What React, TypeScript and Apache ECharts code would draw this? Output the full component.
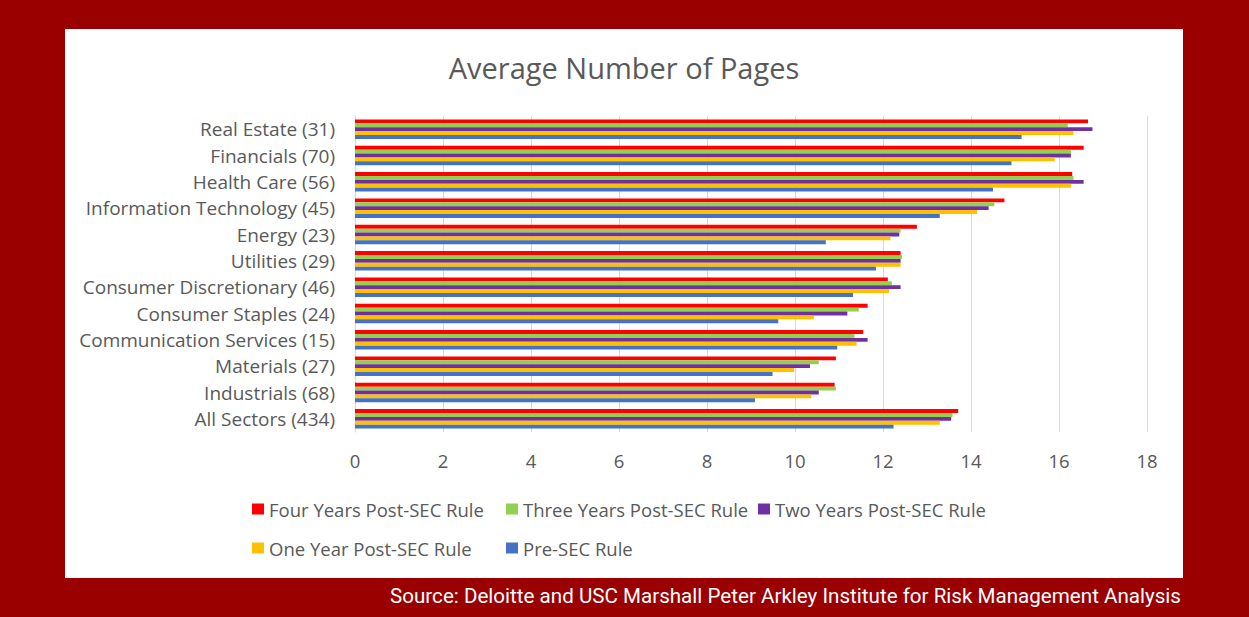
import React, { useEffect, useRef } from "react";
import * as echarts from "echarts";

const categories = [
  "Real Estate (31)",
  "Financials (70)",
  "Health Care (56)",
  "Information Technology (45)",
  "Energy (23)",
  "Utilities (29)",
  "Consumer Discretionary (46)",
  "Consumer Staples (24)",
  "Communication Services (15)",
  "Materials (27)",
  "Industrials (68)",
  "All Sectors (434)",
];

const fourYears = [16.66, 16.56, 16.3, 14.76, 12.77, 12.4, 12.11, 11.65, 11.55, 10.93, 10.9, 13.71];
const threeYears = [16.2, 16.27, 16.33, 14.53, 12.4, 12.43, 12.2, 11.45, 11.35, 10.54, 10.93, 13.58];
const twoYears = [16.76, 16.27, 16.56, 14.4, 12.37, 12.4, 12.4, 11.19, 11.65, 10.34, 10.54, 13.55];
const oneYear = [16.33, 15.9, 16.27, 14.14, 12.17, 12.4, 12.14, 10.43, 11.4, 9.98, 10.37, 13.29];
const preSec = [15.15, 14.92, 14.5, 13.29, 10.7, 11.84, 11.32, 9.62, 10.96, 9.49, 9.09, 12.24];

const seriesNames = [
  "Four Years Post-SEC Rule",
  "Three Years Post-SEC Rule",
  "Two Years Post-SEC Rule",
  "One Year Post-SEC Rule",
  "Pre-SEC Rule",
];
const seriesValues = [fourYears, threeYears, twoYears, oneYear, preSec];
const seriesColors = ["#FF0000", "#92D050", "#7030A0", "#FFC000", "#4472C4"];

const xTicks = { min: 0, max: 18, interval: 2 };

const FONT = "'Open Sans', sans-serif";

export default function App() {
  const ref = useRef<HTMLDivElement>(null);
  useEffect(() => {
    if (!ref.current) return;
    const chart = echarts.init(ref.current, undefined, { renderer: "svg" });
    const legendBase = {
      orient: "vertical" as const,
      top: 499,
      padding: 0,
      itemWidth: 12,
      itemHeight: 11,
      itemGap: 19,
      icon: "rect",
      textStyle: { color: "#595959", fontSize: 18.5, fontFamily: FONT, lineHeight: 20 },
    };
    chart.setOption({
      animation: false,
      backgroundColor: "#9A0000",
      textStyle: { fontFamily: FONT },
      graphic: [
        {
          type: "rect",
          shape: { x: 65, y: 29, width: 1118, height: 549 },
          style: { fill: "#ffffff" },
          z: -10,
        },
        {
          type: "text",
          right: 68,
          top: 585,
          style: {
            text: "Source: Deloitte and USC Marshall Peter Arkley Institute for Risk Management Analysis",
            fill: "#ffffff",
            fontSize: 20.6,
            fontFamily: "Roboto, sans-serif",
          },
        },
      ],
      title: {
        text: "Average Number of Pages",
        left: 624,
        textAlign: "center",
        top: 53,
        padding: 0,
        textStyle: { color: "#595959", fontSize: 29, fontWeight: "normal", fontFamily: FONT },
      },
      legend: [
        { ...legendBase, left: 252, data: [seriesNames[0], seriesNames[3]] },
        { ...legendBase, left: 506, data: [seriesNames[1], seriesNames[4]] },
        { ...legendBase, left: 758, data: [seriesNames[2]] },
      ],
      grid: { left: 355, right: 102, top: 116, bottom: 185, containLabel: false },
      xAxis: {
        type: "value",
        min: xTicks.min,
        max: xTicks.max,
        interval: xTicks.interval,
        axisLine: { show: false },
        axisTick: { show: false },
        axisLabel: { color: "#595959", fontSize: 18.5, margin: 19, fontFamily: FONT },
        splitLine: { lineStyle: { color: "#d9d9d9", width: 1 } },
      },
      yAxis: {
        type: "category",
        inverse: true,
        data: categories,
        axisLine: { show: true, lineStyle: { color: "#d9d9d9" } },
        axisTick: { show: false },
        axisLabel: { color: "#595959", fontSize: 19, margin: 20, fontFamily: FONT },
      },
      series: seriesNames.map((name, i) => ({
        name,
        type: "bar",
        data: seriesValues[i],
        itemStyle: { color: seriesColors[i] },
        barGap: "0%",
        barCategoryGap: "26%",
      })),
    });
    return () => chart.dispose();
  }, []);
  return (
    <div
      ref={ref}
      style={{ position: "fixed", left: 0, top: 0, width: 1249, height: 617 }}
    />
  );
}
